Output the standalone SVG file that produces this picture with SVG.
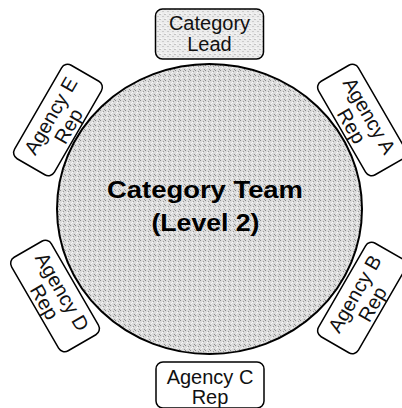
<svg xmlns="http://www.w3.org/2000/svg" width="402" height="408" viewBox="0 0 402 408">
<defs>
<pattern id="stip" width="5" height="5" patternUnits="userSpaceOnUse">
<rect width="5" height="5" fill="#dcdcdc"/>
<rect x="0" y="0" width="1" height="1" fill="#8c8c8c"/>
<rect x="3" y="1" width="1" height="1" fill="#999"/>
<rect x="1" y="3" width="1" height="1" fill="#f4f4f4"/>
<rect x="4" y="4" width="1" height="1" fill="#909090"/>
<rect x="2" y="2" width="1" height="1" fill="#fafafa"/>
</pattern>
<pattern id="stipL" width="5" height="5" patternUnits="userSpaceOnUse">
<rect width="5" height="5" fill="#ececec"/>
<rect x="0" y="0" width="1" height="1" fill="#999"/>
<rect x="3" y="2" width="1" height="1" fill="#aaa"/>
<rect x="1" y="4" width="1" height="1" fill="#fff"/>
</pattern>
</defs>
<style>
.box{fill:#fff;stroke:#000;stroke-width:1.5}
.lbl{font-family:"Liberation Sans",Arial,sans-serif;font-size:20px;fill:#111;text-anchor:middle}
.big{font-family:"Liberation Sans",Arial,sans-serif;font-size:23px;font-weight:bold;fill:#000;text-anchor:middle}
</style>
<g id="team">
<ellipse cx="209.5" cy="209" rx="152.5" ry="145" fill="url(#stip)" stroke="#000" stroke-width="2"/>
<text class="big" x="205" y="198" textLength="196" lengthAdjust="spacingAndGlyphs">Category Team</text>
<text class="big" x="205.5" y="231" textLength="108" lengthAdjust="spacingAndGlyphs">(Level 2)</text>
</g>
<g id="connectors"></g>
<g id="lead" transform="translate(209.5,34)">
<rect class="box" x="-54" y="-25" width="108" height="50" rx="7" style="fill:url(#stipL)"/>
<text class="lbl" x="0" y="-4">Category</text>
<text class="lbl" x="0" y="16.5">Lead</text>
</g>
<g id="agencyA" transform="translate(362,120) rotate(60)">
<rect class="box" x="-54" y="-23" width="108" height="46" rx="7"/>
<text class="lbl" x="0" y="-1.5">Agency A</text>
<text class="lbl" x="0" y="19">Rep</text>
</g>
<g id="agencyB" transform="translate(362,298) rotate(-60)">
<rect class="box" x="-54" y="-23" width="108" height="46" rx="7"/>
<text class="lbl" x="0" y="-1.5">Agency B</text>
<text class="lbl" x="0" y="19">Rep</text>
</g>
<g id="agencyC" transform="translate(210,385)">
<rect class="box" x="-54" y="-23" width="108" height="46" rx="7"/>
<text class="lbl" x="0" y="-1.5">Agency C</text>
<text class="lbl" x="0" y="19">Rep</text>
</g>
<g id="agencyD" transform="translate(55,296) rotate(60)">
<rect class="box" x="-54" y="-23" width="108" height="46" rx="7"/>
<text class="lbl" x="0" y="-1.5">Agency D</text>
<text class="lbl" x="0" y="19">Rep</text>
</g>
<g id="agencyE" transform="translate(58,120) rotate(-60)">
<rect class="box" x="-54" y="-23" width="108" height="46" rx="7"/>
<text class="lbl" x="0" y="-1.5">Agency E</text>
<text class="lbl" x="0" y="19">Rep</text>
</g>
</svg>
